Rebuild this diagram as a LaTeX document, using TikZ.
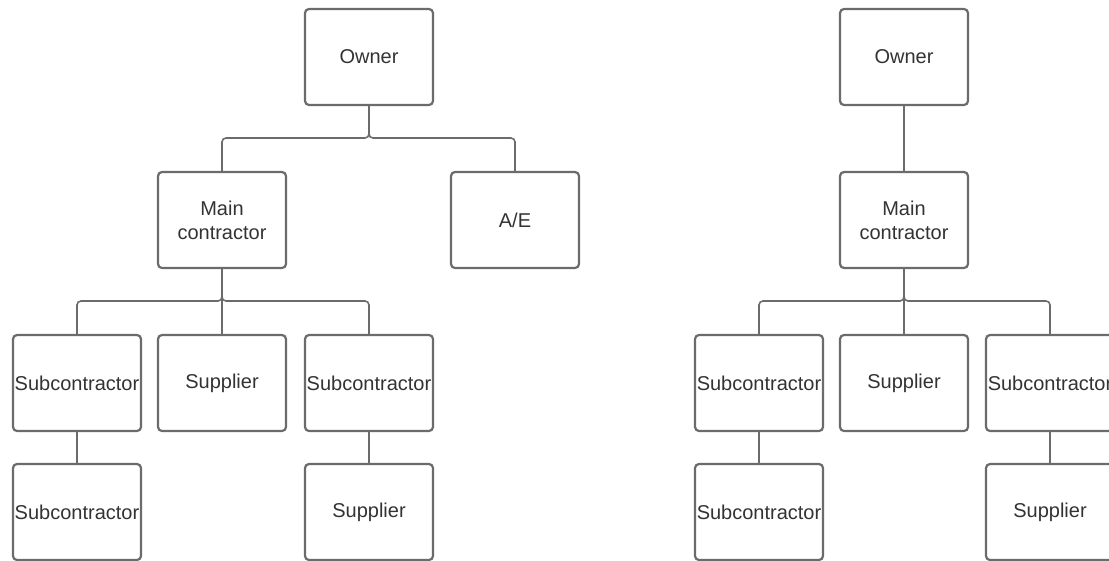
\documentclass[tikz,border=0pt]{standalone}
\usepackage{fontspec}
\setmainfont{Liberation Sans}
\begin{document}
\begin{tikzpicture}[x=1pt,y=-1pt,
  orgbox/.style={draw=boxline, line width=2.2pt, rounded corners=4pt, fill=white,
    minimum width=128pt, minimum height=96pt, inner sep=0pt, align=center,
    text=labeltext, font=\fontsize{20}{24}\selectfont},
  link/.style={draw=boxline, line width=1.6pt, rounded corners=4pt}]
\definecolor{boxline}{HTML}{6B6B6B}
\definecolor{labeltext}{HTML}{333333}
\useasboundingbox (0,0) rectangle (1109,560);
\clip (0,0) rectangle (1109,560);

% left tree: owner with contractor and A/E
\node[orgbox] (lowner) at (369,57) {Owner};
\node[orgbox] (lmain)  at (222,220) {Main\\contractor};
\node[orgbox] (lae)    at (515,220) {A/E};
\node[orgbox] (lsub1)  at (77,383)  {Subcontractor};
\node[orgbox] (lsup1)  at (222,383) {Supplier};
\node[orgbox] (lsub2)  at (369,383) {Subcontractor};
\node[orgbox] (lsub3)  at (77,512)  {Subcontractor};
\node[orgbox] (lsup2)  at (369,512) {Supplier};

\draw[link] (lowner.south) -- (lowner.south |- 0,138) -| (lmain.north);
\draw[link] (lowner.south) -- (lowner.south |- 0,138) -| (lae.north);
\draw[link] (lmain.south) -- (lmain.south |- 0,301) -| (lsub1.north);
\draw[link] (lmain.south) -- (lsup1.north);
\draw[link] (lmain.south) -- (lmain.south |- 0,301) -| (lsub2.north);
\draw[link] (lsub1.south) -- (lsub3.north);
\draw[link] (lsub2.south) -- (lsup2.north);

% right tree: owner with contractor only
\node[orgbox] (rowner) at (904,57)  {Owner};
\node[orgbox] (rmain)  at (904,220) {Main\\contractor};
\node[orgbox] (rsub1)  at (759,383) {Subcontractor};
\node[orgbox] (rsup1)  at (904,383) {Supplier};
\node[orgbox] (rsub2)  at (1050,383) {Subcontractor};
\node[orgbox] (rsub3)  at (759,512) {Subcontractor};
\node[orgbox] (rsup2)  at (1050,512) {Supplier};

\draw[link] (rowner.south) -- (rmain.north);
\draw[link] (rmain.south) -- (rmain.south |- 0,301) -| (rsub1.north);
\draw[link] (rmain.south) -- (rsup1.north);
\draw[link] (rmain.south) -- (rmain.south |- 0,301) -| (rsub2.north);
\draw[link] (rsub1.south) -- (rsub3.north);
\draw[link] (rsub2.south) -- (rsup2.north);
\end{tikzpicture}
\end{document}
